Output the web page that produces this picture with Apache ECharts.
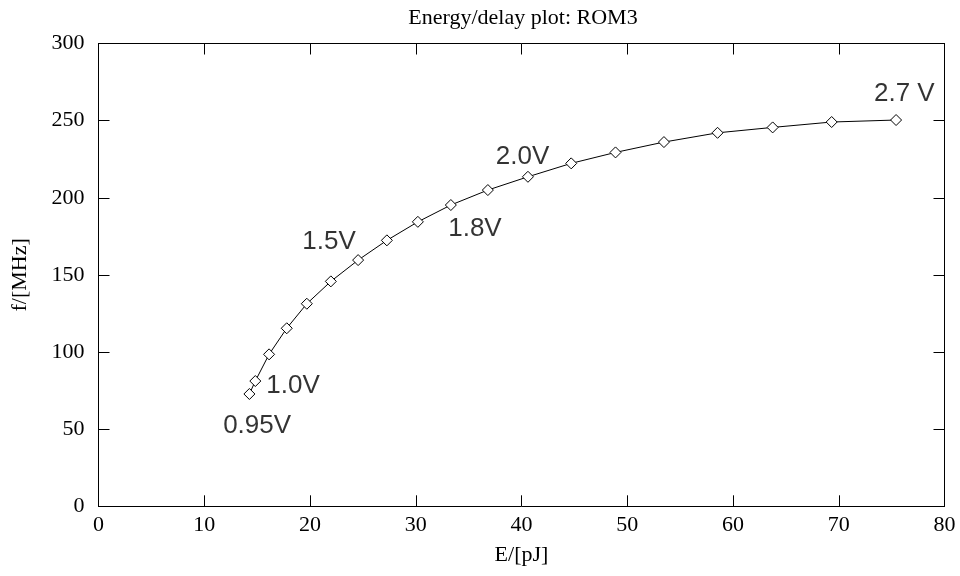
<!DOCTYPE html>
<html>
<head>
<meta charset="utf-8">
<script src="https://cdn.jsdelivr.net/npm/echarts@6/dist/echarts.min.js"></script>
<style>html,body{margin:0;padding:0;background:#fff}#c{width:960px;height:576px}</style>
</head>
<body>
<div id="c"></div>
<script>
const energy = [14.27, 14.83, 16.13, 17.80, 19.70, 21.97, 24.55, 27.27, 30.20, 33.32, 36.82, 40.61, 44.70, 48.89, 53.47, 58.54, 63.75, 69.33, 75.42];
const freq   = [72.8, 81.2, 98.5, 115.4, 131.3, 145.8, 159.6, 172.4, 184.4, 195.3, 205.0, 213.6, 222.3, 229.4, 236.1, 242.1, 245.6, 249.1, 250.4];
const labelText = ['0.95V', '1.0V', '1.5V', '1.8V', '2.0V', '2.7 V'];
const labelE    = [15.0, 18.4, 21.8, 35.6, 40.1, 76.2];
const labelF    = [52.1, 78.0, 171.6, 180.0, 226.8, 267.1];

const serif = 'Liberation Serif';
const sans = 'Liberation Sans';

const chart = echarts.init(document.getElementById('c'), null, {renderer: 'canvas'});

const lineData = energy.map((e, i) => [e, freq[i]]);
const labelData = labelText.map((t, i) => ({name: t, value: [labelE[i], labelF[i]]}));

const axisCommon = {
  type: 'value',
  axisLine: {show: true, onZero: false, lineStyle: {color: '#000', width: 1}},
  axisTick: {show: true, inside: true, length: 11, lineStyle: {color: '#000', width: 1}},
  splitLine: {show: false}
};

chart.setOption({
  animation: false,
  backgroundColor: '#fff',
  title: {
    text: 'Energy/delay plot: ROM3',
    left: 518, top: 2, textAlign: 'center',
    textStyle: {fontFamily: serif, fontSize: 22, fontWeight: 'normal', color: '#000'}
  },
  grid: {left: 98.5, right: 15.5, top: 43.5, bottom: 69.7, containLabel: false},
  xAxis: [
    Object.assign({}, axisCommon, {
      position: 'bottom', min: 0, max: 80, interval: 10,
      name: 'E/[pJ]', nameLocation: 'middle', nameGap: 38,
      nameTextStyle: {fontFamily: serif, fontSize: 22, color: '#000'},
      axisLabel: {fontFamily: serif, fontSize: 22, color: '#000', margin: 8}
    }),
    Object.assign({}, axisCommon, {
      position: 'top', min: 0, max: 80, interval: 10,
      axisLabel: {show: false}
    })
  ],
  yAxis: [
    Object.assign({}, axisCommon, {
      position: 'left', min: 0, max: 300, interval: 50,
      name: 'f/[MHz]', nameLocation: 'middle', nameGap: 67,
      nameTextStyle: {fontFamily: serif, fontSize: 22, color: '#000'},
      axisLabel: {fontFamily: serif, fontSize: 22, color: '#000', margin: 14}
    }),
    Object.assign({}, axisCommon, {
      position: 'right', min: 0, max: 300, interval: 50,
      axisLabel: {show: false}
    })
  ],
  series: [
    {
      type: 'line',
      data: lineData,
      xAxisIndex: 0, yAxisIndex: 0,
      symbol: 'diamond', symbolSize: 11,
      showAllSymbol: true,
      lineStyle: {color: '#000', width: 1},
      itemStyle: {color: '#fff', borderColor: '#000', borderWidth: 1},
      z: 3
    },
    {
      type: 'scatter',
      data: labelData,
      xAxisIndex: 0, yAxisIndex: 0,
      symbolSize: 0,
      silent: true,
      label: {
        show: true, position: 'inside',
        formatter: p => p.name,
        fontFamily: sans, fontSize: 26, color: '#000'
      },
      z: 4
    }
  ]
});
</script>
</body>
</html>
